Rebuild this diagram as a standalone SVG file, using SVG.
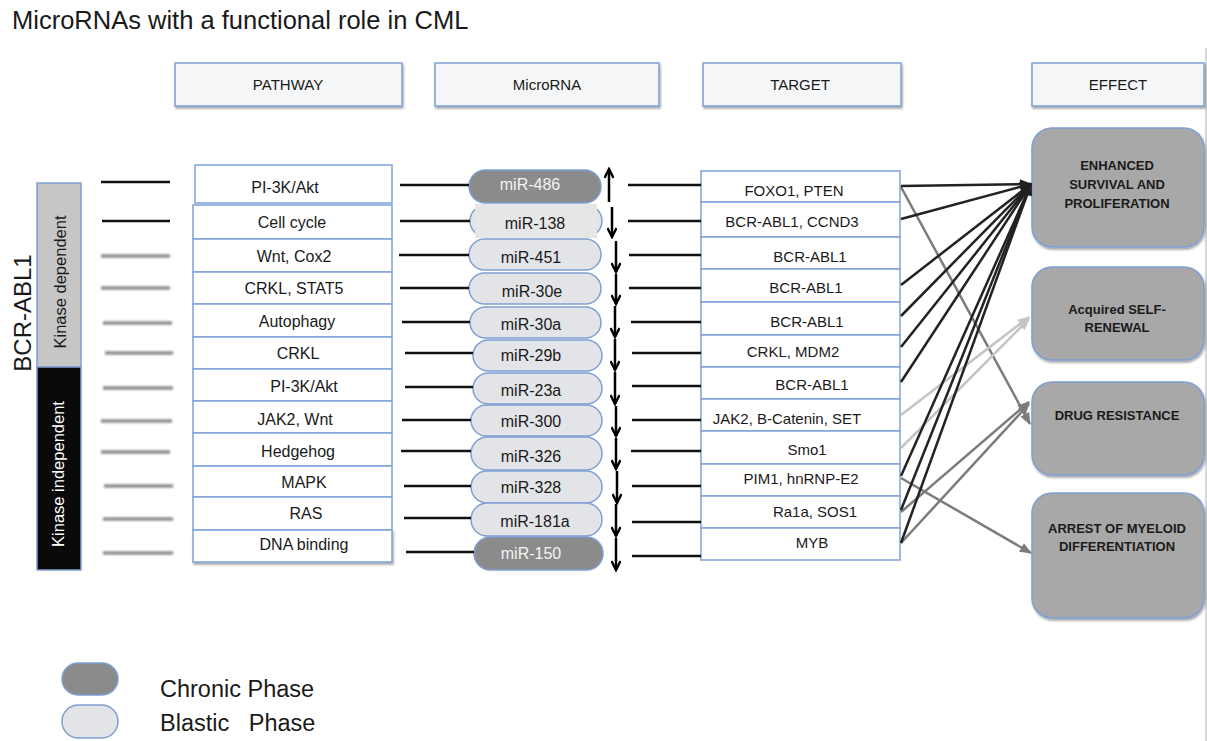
<svg xmlns="http://www.w3.org/2000/svg" width="1207" height="741" viewBox="0 0 1207 741">
<style>
text{font-family:"Liberation Sans",Arial,sans-serif;fill:#1a1a1a}
.hdr{fill:#f5f6f8;stroke:#7f9fd3;stroke-width:1.5}
.hdrt{font-size:15px;text-anchor:middle}
.row{fill:#fff;stroke:#7fa2d8;stroke-width:1.5}
.rt{font-size:16px;text-anchor:middle}
.tt{font-size:15px;text-anchor:middle}
.pl{fill:#e3e4e7;stroke:#7f9fd3;stroke-width:1.5}
.pd{fill:#8b8b8b;stroke:#7f9fd3;stroke-width:1.5}
.mt{font-size:16px;text-anchor:middle}
.mtw{fill:#f4f4f4}
.eff{fill:#a8a8a8;stroke:#7f9fd3;stroke-width:1.5}
.et{font-size:13px;font-weight:bold;text-anchor:middle}
.lk{stroke:#111;stroke-width:2.5}
.lgr{stroke:#8c8c8c;stroke-width:3.5}
.ud{stroke:#000;stroke-width:2.5;marker-end:url(#chev)}
.ck{stroke:#222;stroke-width:2.5;fill:none;marker-end:url(#hk)}
.cg{stroke:#7c7c7c;stroke-width:2.5;fill:none;marker-end:url(#hg)}
.cl{stroke:#c4c4c4;stroke-width:2.5;fill:none;marker-end:url(#hl)}
</style>
<defs>
<filter id="sh" x="-10%" y="-10%" width="130%" height="140%"><feDropShadow dx="1" dy="2" stdDeviation="1.2" flood-color="#000" flood-opacity="0.35"/></filter>
<filter id="bl" x="-5%" y="-100%" width="110%" height="300%"><feGaussianBlur stdDeviation="0.8"/></filter>
<marker id="chev" viewBox="0 0 12 10" refX="10" refY="5" markerWidth="12" markerHeight="10" markerUnits="userSpaceOnUse" orient="auto"><path d="M1,0.5 L10,5 L1,9.5" fill="none" stroke="#000" stroke-width="2.4"/></marker>
<marker id="hk" viewBox="0 0 12 10" refX="11" refY="5" markerWidth="13" markerHeight="10" markerUnits="userSpaceOnUse" orient="auto"><path d="M0,0 L12,5 L0,10 z" fill="#222"/></marker>
<marker id="hg" viewBox="0 0 12 10" refX="11" refY="5" markerWidth="13" markerHeight="10" markerUnits="userSpaceOnUse" orient="auto"><path d="M0,0 L12,5 L0,10 z" fill="#7c7c7c"/></marker>
<marker id="hl" viewBox="0 0 12 10" refX="11" refY="5" markerWidth="13" markerHeight="10" markerUnits="userSpaceOnUse" orient="auto"><path d="M0,0 L12,5 L0,10 z" fill="#c4c4c4"/></marker>
</defs>
<rect x="0" y="0" width="1207" height="741" fill="#fff"/>
<line x1="1206" y1="48" x2="1206" y2="741" stroke="#c8c8c8" stroke-width="1.5"/>
<text x="12" y="29" style="font-size:25.5px">MicroRNAs with a functional role in CML</text>

<g id="headers">
<g id="h-pathway"><rect class="hdr" x="175" y="63" width="227" height="43" filter="url(#sh)"/><text class="hdrt" x="288" y="90">PATHWAY</text></g>
<g id="h-microrna"><rect class="hdr" x="435" y="63" width="224" height="43" filter="url(#sh)"/><text class="hdrt" x="547" y="90">MicroRNA</text></g>
<g id="h-target"><rect class="hdr" x="703" y="63" width="198" height="43" filter="url(#sh)"/><text class="hdrt" x="800" y="90">TARGET</text></g>
<g id="h-effect"><rect class="hdr" x="1032" y="63" width="172" height="43" filter="url(#sh)"/><text class="hdrt" x="1118" y="90">EFFECT</text></g>
</g>

<g id="bcr-abl1">
<text transform="translate(31,313) rotate(-90)" style="font-size:24px;text-anchor:middle">BCR-ABL1</text>
<g id="kinase-dependent"><rect x="37" y="183" width="44" height="184" fill="#c6c6c6" stroke="#7f9fd3" stroke-width="1.5"/><text transform="translate(66,282) rotate(-90)" style="font-size:16.5px;text-anchor:middle">Kinase dependent</text></g>
<g id="kinase-independent"><rect x="37" y="367" width="44" height="203" fill="#0a0a0a" stroke="#7f9fd3" stroke-width="1.5"/><text transform="translate(64,474) rotate(-90)" style="font-size:16.5px;text-anchor:middle;fill:#fff">Kinase independent</text></g>
</g>

<g id="left-lines">
<line x1="95" y1="187" x2="95" y2="572" stroke="#8a8a8a" stroke-width="3" filter="url(#bl)"/>
<line class="lk" x1="101" y1="182" x2="170" y2="182"/>
<line class="lk" x1="102" y1="221" x2="170" y2="221"/>
<g filter="url(#bl)">
<line class="lgr" x1="101" y1="256" x2="170" y2="256"/>
<line class="lgr" x1="101" y1="288" x2="170" y2="288"/>
<line class="lgr" x1="103" y1="323" x2="172" y2="323"/>
<line class="lgr" x1="105" y1="353" x2="173" y2="353"/>
<line class="lgr" x1="103" y1="388" x2="173" y2="388"/>
<line class="lgr" x1="101" y1="421" x2="172" y2="421"/>
<line class="lgr" x1="101" y1="452" x2="170" y2="452"/>
<line class="lgr" x1="104" y1="486" x2="173" y2="486"/>
<line class="lgr" x1="103" y1="519" x2="173" y2="519"/>
<line class="lgr" x1="103" y1="553" x2="173" y2="553"/>
</g>
</g>

<g id="pathway">
<g id="p0"><rect class="row" x="195" y="165" width="197" height="38"/><text class="rt" x="285" y="193">PI-3K/Akt</text></g>
<g id="p1"><rect class="row" x="193" y="205" width="199" height="34"/><text class="rt" x="292" y="228">Cell cycle</text></g>
<g id="p2"><rect class="row" x="193" y="239" width="199" height="33"/><text class="rt" x="294" y="262">Wnt, Cox2</text></g>
<g id="p3"><rect class="row" x="193" y="272" width="199" height="32"/><text class="rt" x="294" y="294">CRKL, STAT5</text></g>
<g id="p4"><rect class="row" x="193" y="304" width="199" height="33"/><text class="rt" x="297" y="327">Autophagy</text></g>
<g id="p5"><rect class="row" x="193" y="337" width="199" height="32"/><text class="rt" x="298" y="359">CRKL</text></g>
<g id="p6"><rect class="row" x="193" y="369" width="199" height="32"/><text class="rt" x="304" y="392">PI-3K/Akt</text></g>
<g id="p7"><rect class="row" x="193" y="401" width="199" height="32"/><text class="rt" x="295" y="425">JAK2, Wnt</text></g>
<g id="p8"><rect class="row" x="193" y="433" width="199" height="33"/><text class="rt" x="298" y="457">Hedgehog</text></g>
<g id="p9"><rect class="row" x="193" y="466" width="199" height="31"/><text class="rt" x="304" y="488">MAPK</text></g>
<g id="p10"><rect class="row" x="193" y="497" width="199" height="33"/><text class="rt" x="306" y="519">RAS</text></g>
<g id="p11"><rect class="row" x="193" y="530" width="199" height="32" filter="url(#sh)"/><text class="rt" x="304" y="550">DNA binding</text></g>
</g>

<g id="microrna">
<g id="m0"><rect class="pd" x="469" y="170" width="132" height="33" rx="16.5"/><text class="mt mtw" x="530" y="190">miR-486</text></g>
<g id="m1"><rect class="pl" x="470" y="205" width="132" height="32" rx="16"/><rect x="475" y="204" width="122" height="34" fill="#e6e6e6"/><text class="mt" x="535" y="229">miR-138</text></g>
<g id="m2"><rect class="pl" x="469" y="239" width="132" height="31" rx="15.5"/><text class="mt" x="531" y="263">miR-451</text></g>
<g id="m3"><rect class="pl" x="469" y="273" width="132" height="31" rx="15.5"/><text class="mt" x="532" y="297">miR-30e</text></g>
<g id="m4"><rect class="pl" x="470" y="307" width="131" height="31" rx="15.5"/><text class="mt" x="531" y="330">miR-30a</text></g>
<g id="m5"><rect class="pl" x="473" y="340" width="129" height="31" rx="15.5"/><text class="mt" x="531" y="361">miR-29b</text></g>
<g id="m6"><rect class="pl" x="473" y="373" width="129" height="31" rx="15.5"/><text class="mt" x="531" y="396">miR-23a</text></g>
<g id="m7"><rect class="pl" x="471" y="405" width="131" height="31" rx="15.5"/><text class="mt" x="531" y="427">miR-300</text></g>
<g id="m8"><rect class="pl" x="471" y="437" width="131" height="33" rx="16.5"/><text class="mt" x="531" y="462">miR-326</text></g>
<g id="m9"><rect class="pl" x="471" y="471" width="131" height="32" rx="16"/><text class="mt" x="531" y="493">miR-328</text></g>
<g id="m10"><rect class="pl" x="471" y="503" width="131" height="33" rx="16.5"/><text class="mt" x="535" y="527">miR-181a</text></g>
<g id="m11"><rect class="pd" x="474" y="537" width="129" height="33" rx="16.5"/><text class="mt mtw" x="531" y="559">miR-150</text></g>
</g>

<g id="target">
<g id="t0"><rect class="row" x="701" y="171" width="199" height="31"/><text class="tt" x="794" y="196">FOXO1, PTEN</text></g>
<g id="t1"><rect class="row" x="701" y="202" width="199" height="35"/><text class="tt" x="792" y="227">BCR-ABL1, CCND3</text></g>
<g id="t2"><rect class="row" x="701" y="237" width="199" height="32"/><text class="tt" x="810" y="262">BCR-ABL1</text></g>
<g id="t3"><rect class="row" x="701" y="269" width="199" height="33"/><text class="tt" x="806" y="293">BCR-ABL1</text></g>
<g id="t4"><rect class="row" x="701" y="302" width="199" height="33"/><text class="tt" x="807" y="327">BCR-ABL1</text></g>
<g id="t5"><rect class="row" x="701" y="335" width="199" height="32"/><text class="tt" x="793" y="357">CRKL, MDM2</text></g>
<g id="t6"><rect class="row" x="701" y="367" width="199" height="32"/><text class="tt" x="812" y="390">BCR-ABL1</text></g>
<g id="t7"><rect class="row" x="701" y="399" width="199" height="32"/><text class="tt" x="787" y="424">JAK2, B-Catenin, SET</text></g>
<g id="t8"><rect class="row" x="701" y="431" width="199" height="33"/><text class="tt" x="807" y="455">Smo1</text></g>
<g id="t9"><rect class="row" x="701" y="464" width="199" height="32"/><text class="tt" x="801" y="484">PIM1, hnRNP-E2</text></g>
<g id="t10"><rect class="row" x="701" y="496" width="199" height="32"/><text class="tt" x="815" y="517">Ra1a, SOS1</text></g>
<g id="t11"><rect class="row" x="701" y="528" width="199" height="32"/><text class="tt" x="812" y="548">MYB</text></g>
</g>

<g id="effect">
<g id="e-survival"><rect class="eff" x="1032" y="128" width="172" height="119" rx="20" filter="url(#sh)"/><text class="et" x="1117" y="169.5">ENHANCED</text><text class="et" x="1117" y="188.5">SURVIVAL AND</text><text class="et" x="1117" y="207.5">PROLIFERATION</text></g>
<g id="e-selfrenewal"><rect class="eff" x="1032" y="267" width="172" height="93" rx="20" filter="url(#sh)"/><text class="et" x="1117" y="313.5">Acquired SELF-</text><text class="et" x="1117" y="331.5">RENEWAL</text></g>
<g id="e-drug"><rect class="eff" x="1032" y="382" width="172" height="93" rx="20" filter="url(#sh)"/><text class="et" x="1117" y="419.5">DRUG RESISTANCE</text></g>
<g id="e-arrest"><rect class="eff" x="1032" y="493" width="172" height="125" rx="20" filter="url(#sh)"/><text class="et" x="1117" y="532.5">ARREST OF MYELOID</text><text class="et" x="1117" y="550.5">DIFFERENTIATION</text></g>
</g>

<g id="connectors">
<g id="path-to-mir">
<line class="lk" x1="400" y1="185" x2="469" y2="185"/>
<line class="lk" x1="400" y1="221" x2="470" y2="221"/>
<line class="lk" x1="399" y1="255" x2="469" y2="255"/>
<line class="lk" x1="400" y1="288" x2="469" y2="288"/>
<line class="lk" x1="402" y1="322" x2="470" y2="322"/>
<line class="lk" x1="405" y1="353" x2="473" y2="353"/>
<line class="lk" x1="405" y1="387" x2="473" y2="387"/>
<line class="lk" x1="402" y1="420" x2="471" y2="420"/>
<line class="lk" x1="401" y1="451" x2="471" y2="451"/>
<line class="lk" x1="404" y1="486" x2="471" y2="486"/>
<line class="lk" x1="404" y1="518" x2="471" y2="518"/>
<line class="lk" x1="406" y1="552" x2="474" y2="552"/>
</g>
<g id="regulation">
<line class="ud" x1="609" y1="202" x2="609" y2="169"/>
<line class="ud" x1="612" y1="207" x2="612" y2="237"/>
<line class="ud" x1="616" y1="241" x2="616" y2="272"/>
<line class="ud" x1="616" y1="274" x2="616" y2="304"/>
<line class="ud" x1="615" y1="306" x2="615" y2="337"/>
<line class="ud" x1="615" y1="339" x2="615" y2="370"/>
<line class="ud" x1="615" y1="372" x2="615" y2="404"/>
<line class="ud" x1="616" y1="406" x2="616" y2="436"/>
<line class="ud" x1="616" y1="438" x2="616" y2="469"/>
<line class="ud" x1="617" y1="471" x2="617" y2="503"/>
<line class="ud" x1="616" y1="504" x2="616" y2="536"/>
<line class="ud" x1="616" y1="538" x2="616" y2="570"/>
</g>
<g id="mir-to-target">
<line class="lk" x1="628" y1="185" x2="701" y2="185"/>
<line class="lk" x1="628" y1="221" x2="701" y2="221"/>
<line class="lk" x1="629" y1="255" x2="701" y2="255"/>
<line class="lk" x1="629" y1="288" x2="701" y2="288"/>
<line class="lk" x1="631" y1="322" x2="701" y2="322"/>
<line class="lk" x1="632" y1="353" x2="701" y2="353"/>
<line class="lk" x1="632" y1="386" x2="701" y2="386"/>
<line class="lk" x1="632" y1="420" x2="701" y2="420"/>
<line class="lk" x1="631" y1="451" x2="701" y2="451"/>
<line class="lk" x1="632" y1="486" x2="701" y2="486"/>
<line class="lk" x1="632" y1="522" x2="701" y2="522"/>
<line class="lk" x1="632" y1="556" x2="701" y2="556"/>
</g>
<g id="target-to-effect">
<line class="cg" x1="901" y1="187" x2="1030" y2="424"/>
<line class="cg" x1="901" y1="478" x2="1031" y2="553"/>
<line class="cg" x1="901" y1="512" x2="1029" y2="402"/>
<line class="cg" x1="901" y1="543" x2="1029" y2="404"/>
<line class="cl" x1="901" y1="415" x2="1029" y2="317"/>
<line class="cl" x1="901" y1="448" x2="1029" y2="319"/>
<line class="ck" x1="901" y1="186" x2="1031" y2="184"/>
<line class="ck" x1="901" y1="219" x2="1031" y2="184"/>
<line class="ck" x1="901" y1="285" x2="1031" y2="184"/>
<line class="ck" x1="901" y1="316" x2="1031" y2="184"/>
<line class="ck" x1="901" y1="347" x2="1031" y2="184"/>
<line class="ck" x1="901" y1="382" x2="1031" y2="184"/>
<line class="ck" x1="901" y1="476" x2="1031" y2="184"/>
<line class="ck" x1="901" y1="510" x2="1031" y2="184"/>
<line class="ck" x1="901" y1="543" x2="1031" y2="184"/>
</g>
</g>

<g id="legend">
<g id="legend-chronic"><rect class="pd" x="62" y="663" width="56" height="32" rx="16"/><text x="160" y="697" style="font-size:23.5px">Chronic Phase</text></g>
<g id="legend-blastic"><rect class="pl" x="62" y="705" width="56" height="33" rx="16.5"/><text x="160" y="731" xml:space="preserve" style="font-size:23.5px;white-space:pre">Blastic   Phase</text></g>
</g>
</svg>
